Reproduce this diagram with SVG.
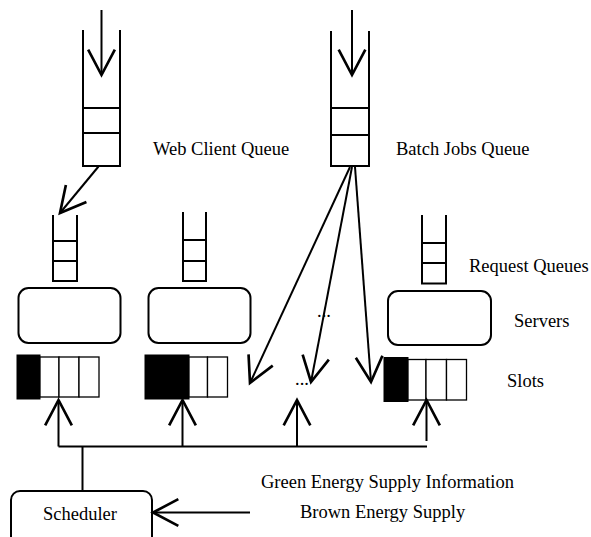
<svg xmlns="http://www.w3.org/2000/svg" width="591" height="537" viewBox="0 0 591 537">
<style>
.q{fill:none;stroke:#000;stroke-width:2}
.srv{fill:#fff;stroke:#000;stroke-width:2}
.cell{fill:#fff;stroke:#000;stroke-width:1.3}
.blk{fill:#000;stroke:#000;stroke-width:1}
.c{fill:none;stroke:#000;stroke-width:2;marker-end:url(#ah)}
.ln{fill:none;stroke:#000;stroke-width:2}
text{font-family:"Liberation Serif","Times New Roman",serif;font-size:18.5px;fill:#000}
</style>
<defs>
<marker id="ah" markerUnits="userSpaceOnUse" markerWidth="40" markerHeight="40" refX="0" refY="0" orient="auto" viewBox="-25 -15 30 30" overflow="visible">
<path d="M-19,-10 L0,0 L-19,10" fill="none" stroke="#000" stroke-width="2"/>
</marker>
</defs>
<rect width="591" height="537" fill="#fff"/>

<g id="web-client-queue">
<path class="q" d="M83,30 V166 H120 V30"/>
<path class="q" d="M83,108 H120 M83,133 H120"/>
<text x="153" y="155">Web Client Queue</text>
</g>

<g id="batch-jobs-queue">
<path class="q" d="M331,31 V166 H369 V31"/>
<path class="q" d="M331,108 H369"/>
<path class="q" d="M331,135 H369" stroke-width="2.5"/>
<text x="396" y="155">Batch Jobs Queue</text>
</g>

<g id="request-queue-1">
<path class="q" d="M53,215 V281 H77 V215"/>
<path class="q" d="M53,241 H77 M53,261 H77"/>
</g>
<g id="request-queue-2">
<path class="q" d="M183,212 V281 M206,212 V281 M182,281 H207"/>
<path class="q" d="M183,240 H206 M183,261 H206"/>
</g>
<g id="request-queue-3">
<path class="q" d="M422,215 V283 M446,215 V283 M421,283.5 H447"/>
<path class="q" d="M422,243 H446 M422,263 H446"/>
<text x="469" y="272">Request Queues</text>
</g>

<g id="server-1"><rect class="srv" x="18.5" y="288" width="102" height="55" rx="10"/></g>
<g id="server-2"><rect class="srv" x="148.5" y="288" width="102" height="55" rx="10"/></g>
<g id="server-3">
<rect class="srv" x="388" y="291" width="103" height="54" rx="10"/>
<text x="514" y="327">Servers</text>
</g>
<text x="317" y="317">...</text>

<g id="slots-1">
<rect class="blk" x="17" y="355" width="23" height="44"/>
<rect class="cell" x="40" y="357" width="19" height="40"/>
<rect class="cell" x="59" y="357" width="20" height="40"/>
<rect class="cell" x="79" y="357" width="20" height="40"/>
</g>
<g id="slots-2">
<rect class="blk" x="145" y="355" width="44" height="44"/>
<rect class="cell" x="189" y="357" width="18.5" height="40"/>
<rect class="cell" x="207.5" y="357" width="20" height="40"/>
</g>
<g id="slots-3">
<rect class="blk" x="384" y="357.5" width="24" height="44"/>
<rect class="cell" x="408" y="359.5" width="18" height="40.5"/>
<rect class="cell" x="426" y="359.5" width="20.5" height="40.5"/>
<rect class="cell" x="446.5" y="359.5" width="20" height="40.5"/>
<text x="507" y="387">Slots</text>
</g>
<text x="295" y="385">...</text>

<g id="scheduler">
<rect class="srv" x="11" y="491" width="141" height="60" rx="9"/>
<text x="43" y="520">Scheduler</text>
</g>

<text x="261" y="488">Green Energy Supply Information</text>
<text x="300" y="518">Brown Energy Supply</text>

<g id="connectors">
<path class="c" d="M101.5,10 V75"/>
<path class="c" d="M352,10 V75"/>
<path class="c" d="M98.5,166.5 L60,213"/>
<path class="c" d="M350,167 L250,383"/>
<path class="c" d="M352,167 L311,382"/>
<path class="c" d="M355,167 L371,382"/>
<path class="ln" d="M58.5,446.5 H427"/>
<path class="ln" d="M82.5,446.5 V491"/>
<path class="c" d="M58.5,446.5 V400"/>
<path class="c" d="M182.5,446.5 V400"/>
<path class="c" d="M297,446.5 V400"/>
<path class="c" d="M426.5,441 V400"/>
<path class="c" d="M250,512.5 H153"/>
</g>
</svg>
